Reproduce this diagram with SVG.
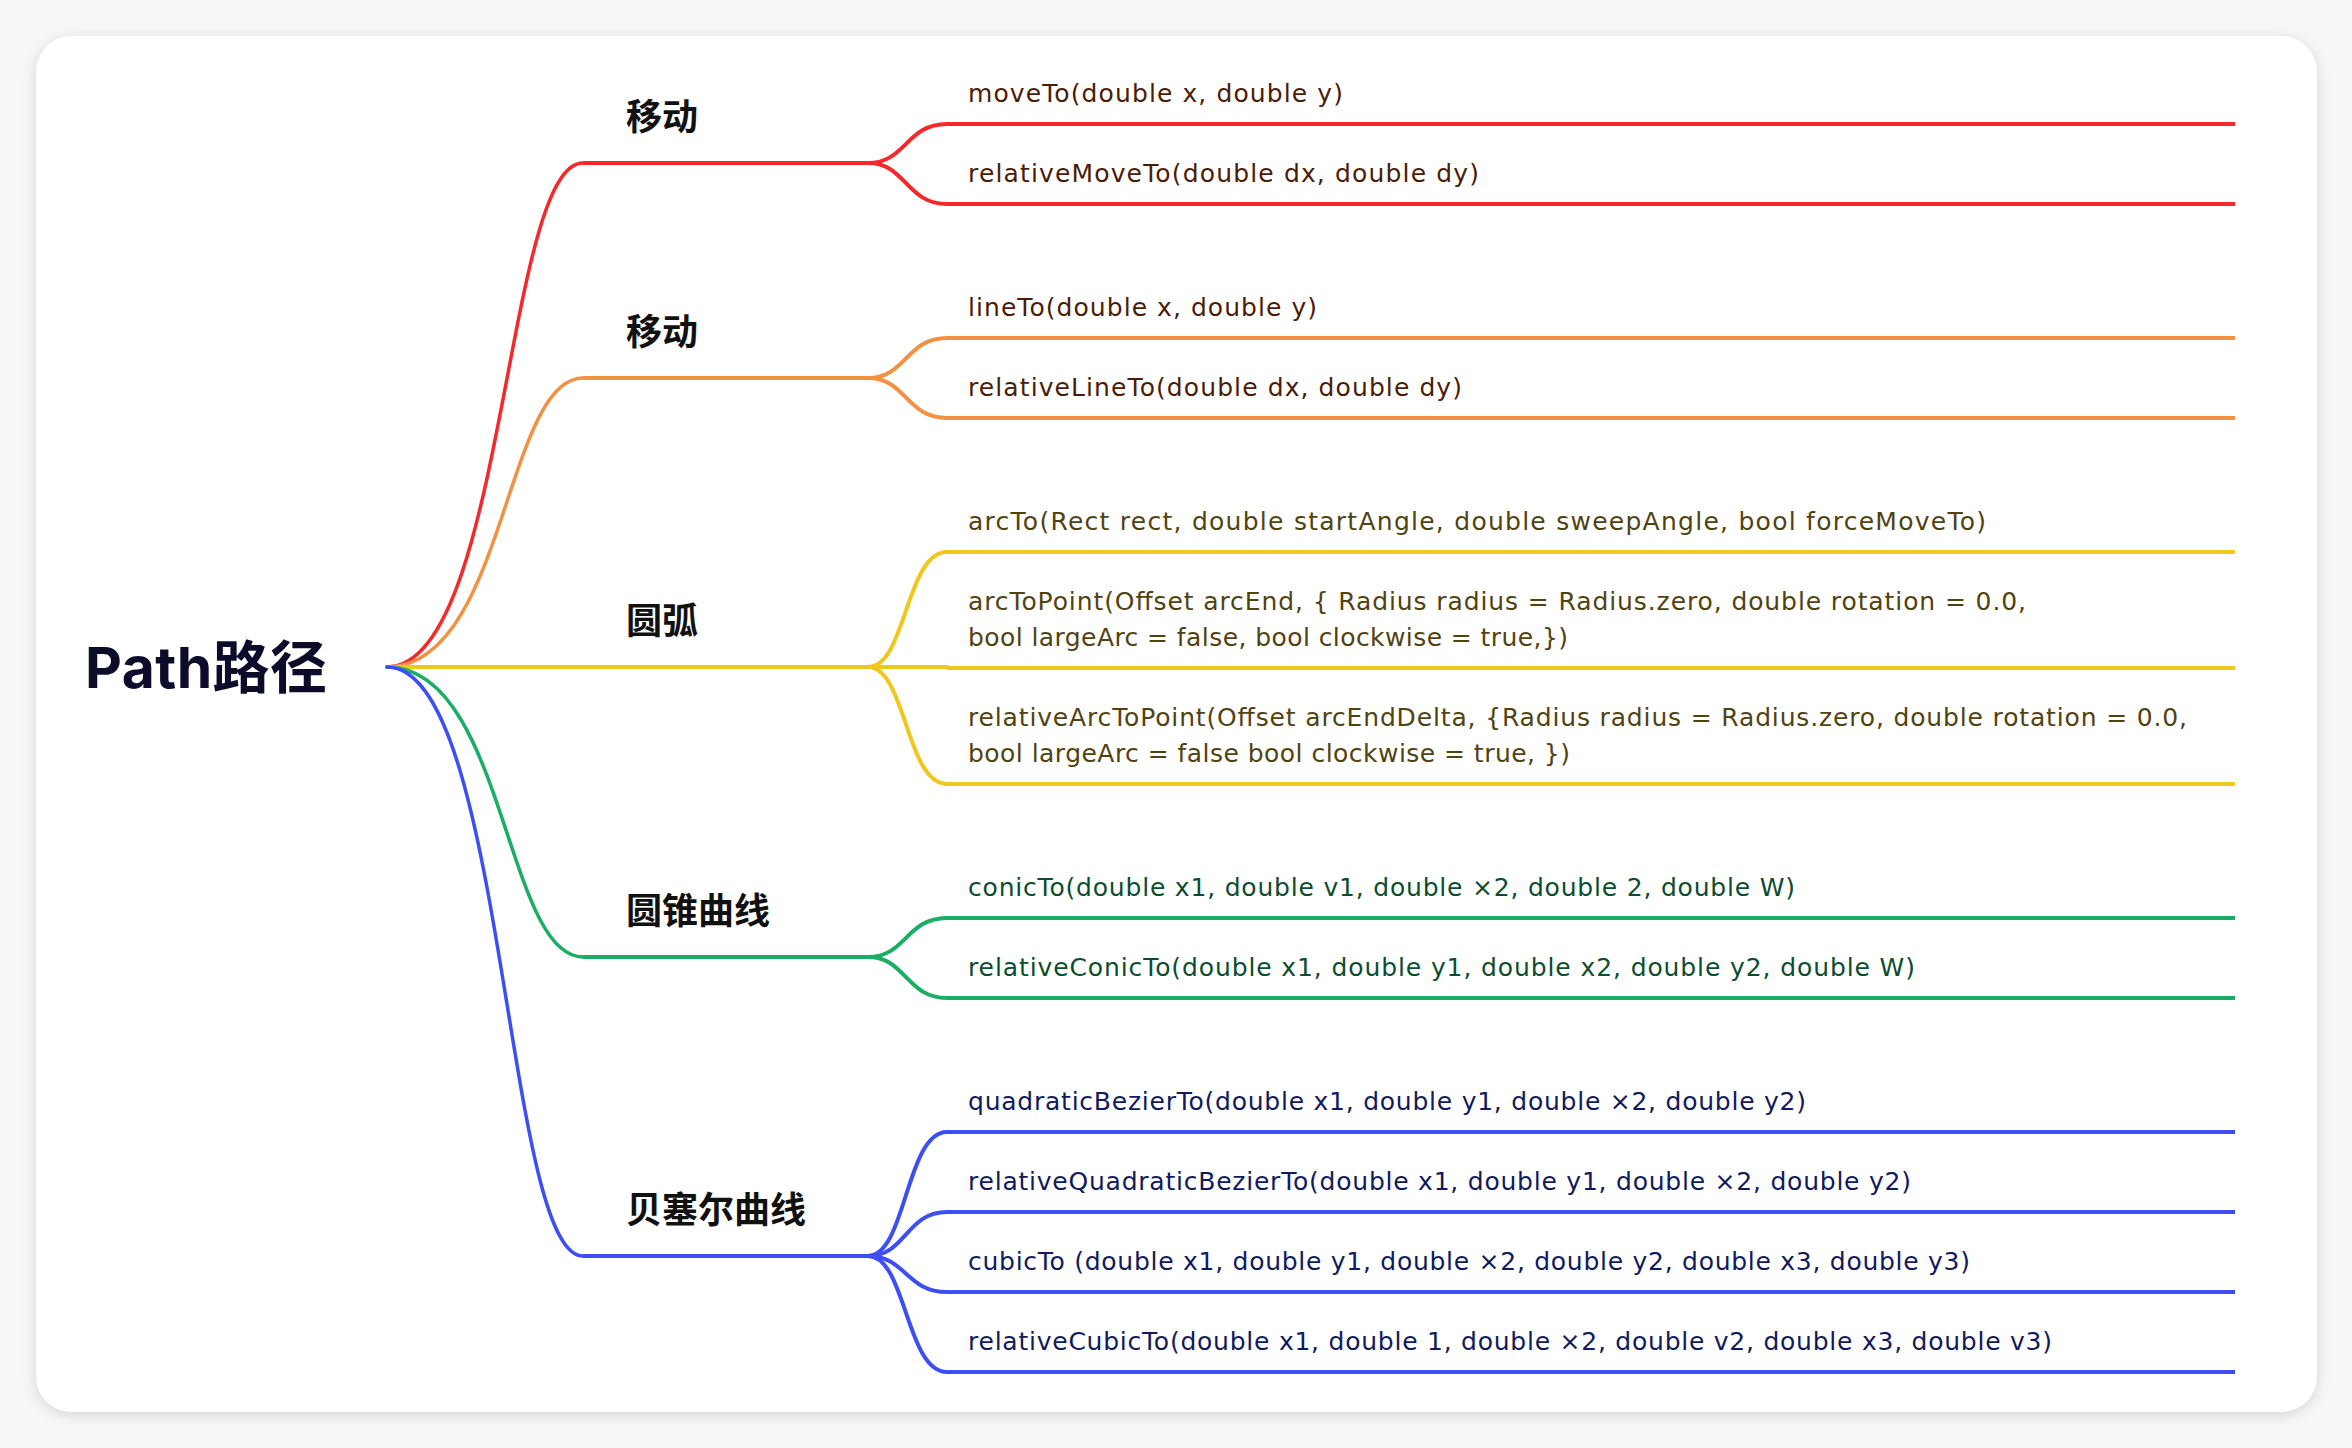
<svg xmlns="http://www.w3.org/2000/svg" width="2352" height="1448" viewBox="0 0 2352 1448">
<defs>
<filter id="sh" x="-5%" y="-5%" width="110%" height="110%">
<feDropShadow dx="0" dy="3" stdDeviation="7" flood-color="#000" flood-opacity="0.14"/>
</filter>
</defs>
<style>
.l2{font-family:"DejaVu Sans","Liberation Sans",sans-serif;font-size:25px;}
.l1{font-family:"Noto Sans CJK SC","Noto Sans",sans-serif;font-size:36px;font-weight:700;fill:#111111;}
.root{font-family:Inter,"Noto Sans CJK SC",sans-serif;font-size:57px;font-weight:700;fill:#0c0c2a;}
.c{fill:none;stroke-linecap:round;}
.u{fill:none;stroke-width:4;}
.rd{stroke:#f5282b;} .or{stroke:#f39143;} .ye{stroke:#f0c71c;} .gr{stroke:#1aad65;} .bl{stroke:#3d4ef5;}
.trd{fill:#4a1c06;} .tye{fill:#514311;} .tgr{fill:#0b4d2e;} .tbl{fill:#101a5c;}
</style>
<rect x="0" y="0" width="2352" height="1448" fill="#f7f7f7"/>
<rect x="36" y="36" width="2281" height="1376" rx="36" fill="#ffffff" filter="url(#sh)"/>

<g id="connectors">
<path class="c rd" stroke-width="3.5" d="M387 667 C505 667 505 163 583 163"/>
<path class="c or" stroke-width="3.5" d="M387 667 C505 667 505 378 583 378"/>
<path class="c ye" stroke-width="4" d="M387 667 L583 667"/>
<path class="c gr" stroke-width="3.5" d="M387 667 C505 667 505 957 583 957"/>
<path class="c bl" stroke-width="3.5" d="M387 667 C505 667 505 1256 583 1256"/>

<path class="c rd" stroke-width="4" d="M868 163 C906 163 906 124 947 124"/>
<path class="c rd" stroke-width="4" d="M868 163 C906 163 906 204 947 204"/>
<path class="c or" stroke-width="4" d="M868 378 C906 378 906 338 947 338"/>
<path class="c or" stroke-width="4" d="M868 378 C906 378 906 418 947 418"/>
<path class="c ye" stroke-width="4" d="M868 667 C906 667 906 552 947 552"/>
<path class="c ye" stroke-width="4" d="M868 667 L947 667"/>
<path class="c ye" stroke-width="4" d="M868 667 C906 667 906 784 947 784"/>
<path class="c gr" stroke-width="4" d="M868 957 C906 957 906 918 947 918"/>
<path class="c gr" stroke-width="4" d="M868 957 C906 957 906 998 947 998"/>
<path class="c bl" stroke-width="4" d="M868 1256 C906 1256 906 1132 947 1132"/>
<path class="c bl" stroke-width="4" d="M868 1256 C906 1256 906 1212 947 1212"/>
<path class="c bl" stroke-width="4" d="M868 1256 C906 1256 906 1292 947 1292"/>
<path class="c bl" stroke-width="4" d="M868 1256 C906 1256 906 1372 947 1372"/>
</g>

<g id="root"><text class="root" x="85" y="688" textLength="242" lengthAdjust="spacing">Path路径</text></g>

<g id="n-move"><line class="u rd" x1="583" y1="163" x2="868" y2="163"/><text class="l1" x="626" y="130">移动</text></g>
<g id="n-line"><line class="u or" x1="583" y1="378" x2="868" y2="378"/><text class="l1" x="626" y="345">移动</text></g>
<g id="n-arc"><line class="u ye" x1="583" y1="667" x2="868" y2="667"/><text class="l1" x="626" y="634">圆弧</text></g>
<g id="n-conic"><line class="u gr" x1="583" y1="957" x2="868" y2="957"/><text class="l1" x="626" y="924">圆锥曲线</text></g>
<g id="n-bezier"><line class="u bl" x1="583" y1="1256" x2="868" y2="1256"/><text class="l1" x="626" y="1223">贝塞尔曲线</text></g>

<g id="moveTo"><line class="u rd" x1="947" y1="124" x2="2235" y2="124"/><text class="l2 trd" x="968" y="102" textLength="375" lengthAdjust="spacing">moveTo(double x, double y)</text></g>
<g id="relativeMoveTo"><line class="u rd" x1="947" y1="204" x2="2235" y2="204"/><text class="l2 trd" x="968" y="182" textLength="511" lengthAdjust="spacing">relativeMoveTo(double dx, double dy)</text></g>
<g id="lineTo"><line class="u or" x1="947" y1="338" x2="2235" y2="338"/><text class="l2 trd" x="968" y="316" textLength="349" lengthAdjust="spacing">lineTo(double x, double y)</text></g>
<g id="relativeLineTo"><line class="u or" x1="947" y1="418" x2="2235" y2="418"/><text class="l2 trd" x="968" y="396" textLength="494" lengthAdjust="spacing">relativeLineTo(double dx, double dy)</text></g>
<g id="arcTo"><line class="u ye" x1="947" y1="552" x2="2235" y2="552"/><text class="l2 tye" x="968" y="530" textLength="1018" lengthAdjust="spacing">arcTo(Rect rect, double startAngle, double sweepAngle, bool forceMoveTo)</text></g>
<g id="arcToPoint"><line class="u ye" x1="947" y1="668" x2="2235" y2="668"/><text class="l2 tye" x="968" y="610" textLength="1058" lengthAdjust="spacing">arcToPoint(Offset arcEnd, { Radius radius = Radius.zero, double rotation = 0.0,</text><text class="l2 tye" x="968" y="646" textLength="600" lengthAdjust="spacing">bool largeArc = false, bool clockwise = true,})</text></g>
<g id="relativeArcToPoint"><line class="u ye" x1="947" y1="784" x2="2235" y2="784"/><text class="l2 tye" x="968" y="726" textLength="1219" lengthAdjust="spacing">relativeArcToPoint(Offset arcEndDelta, {Radius radius = Radius.zero, double rotation = 0.0,</text><text class="l2 tye" x="968" y="762" textLength="602" lengthAdjust="spacing">bool largeArc = false bool clockwise = true, })</text></g>
<g id="conicTo"><line class="u gr" x1="947" y1="918" x2="2235" y2="918"/><text class="l2 tgr" x="968" y="896" textLength="827" lengthAdjust="spacing">conicTo(double x1, double v1, double ×2, double 2, double W)</text></g>
<g id="relativeConicTo"><line class="u gr" x1="947" y1="998" x2="2235" y2="998"/><text class="l2 tgr" x="968" y="976" textLength="947" lengthAdjust="spacing">relativeConicTo(double x1, double y1, double x2, double y2, double W)</text></g>
<g id="quadraticBezierTo"><line class="u bl" x1="947" y1="1132" x2="2235" y2="1132"/><text class="l2 tbl" x="968" y="1110" textLength="838" lengthAdjust="spacing">quadraticBezierTo(double x1, double y1, double ×2, double y2)</text></g>
<g id="relativeQuadraticBezierTo"><line class="u bl" x1="947" y1="1212" x2="2235" y2="1212"/><text class="l2 tbl" x="968" y="1190" textLength="943" lengthAdjust="spacing">relativeQuadraticBezierTo(double x1, double y1, double ×2, double y2)</text></g>
<g id="cubicTo"><line class="u bl" x1="947" y1="1292" x2="2235" y2="1292"/><text class="l2 tbl" x="968" y="1270" textLength="1002" lengthAdjust="spacing">cubicTo (double x1, double y1, double ×2, double y2, double x3, double y3)</text></g>
<g id="relativeCubicTo"><line class="u bl" x1="947" y1="1372" x2="2235" y2="1372"/><text class="l2 tbl" x="968" y="1350" textLength="1084" lengthAdjust="spacing">relativeCubicTo(double x1, double 1, double ×2, double v2, double x3, double v3)</text></g>
</svg>
